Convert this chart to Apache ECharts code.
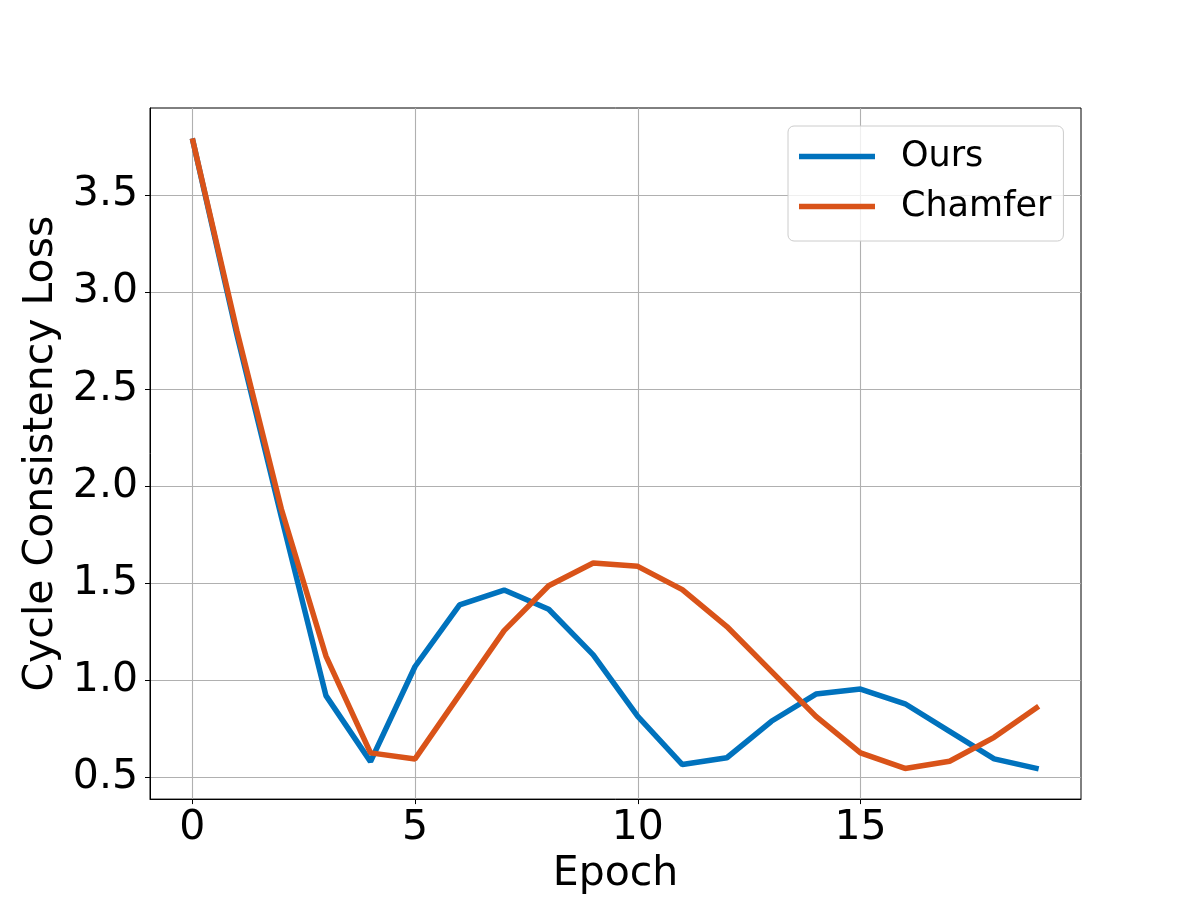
<!DOCTYPE html>
<html>
<head>
<meta charset="utf-8">
<title>Cycle Consistency Loss</title>
<script src="https://cdn.jsdelivr.net/npm/echarts@6/dist/echarts.min.js"></script>
<style>
  html, body { margin: 0; padding: 0; background: #fff; }
  #chart { width: 1200px; height: 900px; }
</style>
</head>
<body>
<div id="chart"></div>
<script>
// epochs 0..19
const epochs = [0, 1, 2, 3, 4, 5, 6, 7, 8, 9, 10, 11, 12, 13, 14, 15, 16, 17, 18, 19]
const ours = [3.79, 2.78, 1.84, 0.92, 0.58, 1.07, 1.387, 1.464, 1.365, 1.13, 0.813, 0.565, 0.60, 0.788, 0.928, 0.954, 0.878, 0.736, 0.594, 0.543]
const chamfer = [3.79, 2.80, 1.88, 1.124, 0.625, 0.594, 0.925, 1.255, 1.486, 1.603, 1.586, 1.466, 1.276, 1.045, 0.813, 0.625, 0.545, 0.582, 0.705, 0.865]
const xTicks = [0, 5, 10, 15]
const yTicks = [0.5, 1.0, 1.5, 2.0, 2.5, 3.0, 3.5]

const font = 'DejaVu Sans'
const chart = echarts.init(document.getElementById('chart'))

const pairs = (ys) => epochs.map((x, i) => [x, ys[i]])

chart.setOption({
  animation: false,
  backgroundColor: '#fff',
  grid: {
    left: 150,
    right: 119,
    top: 108,
    bottom: 99,
    show: true,
    borderColor: '#000',
    borderWidth: 1
  },
  legend: {
    orient: 'vertical',
    left: 788,
    top: 126,
    icon: 'rect',
    itemWidth: 76,
    itemHeight: 5.5,
    itemGap: 15,
    padding: [13, 12, 17, 11],
    borderColor: '#cccccc',
    borderWidth: 1,
    borderRadius: 6,
    backgroundColor: 'rgba(255,255,255,0.8)',
    textStyle: {
      fontFamily: font,
      fontSize: 35,
      lineHeight: 35,
      color: '#000',
      padding: [0, 0, 0, 21]
    },
    data: ['Ours', 'Chamfer']
  },
  xAxis: {
    type: 'value',
    min: -0.95,
    max: 19.95,
    name: 'Epoch',
    nameLocation: 'middle',
    nameGap: 53,
    nameTextStyle: { fontFamily: font, fontSize: 41, color: '#000' },
    axisLine: { show: true, onZero: false, lineStyle: { color: '#000', width: 1 } },
    axisTick: { show: true, length: 5, customValues: xTicks, lineStyle: { color: '#000' } },
    axisLabel: {
      customValues: xTicks,
      margin: 9,
      fontFamily: font,
      fontSize: 41,
      color: '#000'
    },
    splitLine: { show: true, lineStyle: { color: '#b0b0b0', width: 1.1 } }
  },
  yAxis: {
    type: 'value',
    min: 0.387,
    max: 3.947,
    name: 'Cycle Consistency Loss',
    nameLocation: 'middle',
    nameGap: 74,
    nameTextStyle: { fontFamily: font, fontSize: 41, color: '#000' },
    axisLine: { show: true, onZero: false, lineStyle: { color: '#000', width: 1 } },
    axisTick: { show: true, length: 5, customValues: yTicks, lineStyle: { color: '#000' } },
    axisLabel: {
      customValues: yTicks,
      margin: 12,
      fontFamily: font,
      fontSize: 41,
      color: '#000',
      formatter: (v) => v.toFixed(1)
    },
    splitLine: { show: true, lineStyle: { color: '#b0b0b0', width: 1.1 } }
  },
  series: [
    {
      name: 'Ours',
      type: 'line',
      data: pairs(ours),
      showSymbol: false,
      color: '#0072BD',
      lineStyle: { width: 5.5, color: '#0072BD' }
    },
    {
      name: 'Chamfer',
      type: 'line',
      data: pairs(chamfer),
      showSymbol: false,
      color: '#D95319',
      lineStyle: { width: 5.5, color: '#D95319' }
    }
  ]
})
</script>
</body>
</html>
